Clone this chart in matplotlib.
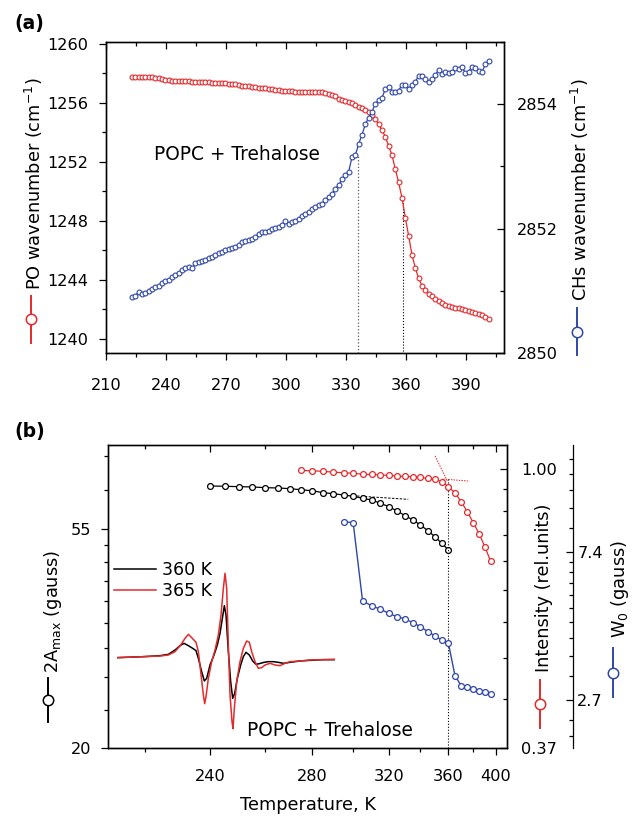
import numpy as np
import matplotlib
matplotlib.use('Agg')
import matplotlib.pyplot as plt
from matplotlib.lines import Line2D
from matplotlib.ticker import FixedLocator, NullFormatter

plt.rcParams['font.family'] = ['DejaVu Sans']
plt.rcParams['mathtext.default'] = 'regular'

# ---------------- data: panel (a) ----------------
temp_a = [223.0, 224.7, 226.3, 228.0, 229.7, 231.3, 233.0, 234.7, 236.3, 238.0,
          239.7, 241.3, 243.0, 244.7, 246.3, 248.0, 249.7, 251.3, 253.0, 254.7,
          256.3, 258.0, 259.7, 261.3, 263.0, 264.7, 266.3, 268.0, 269.7, 271.3,
          273.0, 274.7, 276.3, 278.0, 279.7, 281.3, 283.0, 284.7, 286.3, 288.0,
          289.7, 291.3, 293.0, 294.7, 296.3, 298.0, 299.7, 301.3, 303.0, 304.7,
          306.3, 308.0, 309.7, 311.3, 313.0, 314.7, 316.3, 318.0, 319.7, 321.3,
          323.0, 324.7, 326.3, 328.0, 329.7, 331.3, 333.0, 334.7, 336.3, 338.0,
          339.7, 341.3, 343.0, 344.7, 346.3, 348.0, 349.7, 351.3, 353.0, 354.7,
          356.3, 358.0, 359.7, 361.3, 363.0, 364.7, 366.3, 368.0, 369.7, 371.3,
          373.0, 374.7, 376.3, 378.0, 379.7, 381.3, 383.0, 384.7, 386.3, 388.0,
          389.7, 391.3, 393.0, 394.7, 396.3, 398.0, 399.7, 401.3]
po_wn = [1257.75, 1257.75, 1257.75, 1257.75, 1257.74, 1257.74, 1257.73, 1257.72, 1257.70, 1257.65,
         1257.58, 1257.53, 1257.51, 1257.50, 1257.49, 1257.48, 1257.47, 1257.46, 1257.45, 1257.44,
         1257.43, 1257.42, 1257.41, 1257.40, 1257.38, 1257.37, 1257.36, 1257.34, 1257.33, 1257.30,
         1257.28, 1257.25, 1257.21, 1257.18, 1257.15, 1257.12, 1257.10, 1257.07, 1257.04, 1257.01,
         1256.98, 1256.95, 1256.92, 1256.89, 1256.86, 1256.84, 1256.82, 1256.80, 1256.78, 1256.77,
         1256.76, 1256.76, 1256.75, 1256.75, 1256.76, 1256.76, 1256.75, 1256.72, 1256.67, 1256.62,
         1256.55, 1256.45, 1256.30, 1256.18, 1256.13, 1256.06, 1255.97, 1255.85, 1255.74, 1255.63,
         1255.51, 1255.36, 1255.17, 1254.93, 1254.55, 1254.15, 1253.70, 1253.10, 1252.45, 1251.50,
         1250.62, 1249.55, 1248.20, 1247.00, 1245.70, 1244.80, 1244.10, 1243.62, 1243.30, 1243.08,
         1242.90, 1242.72, 1242.56, 1242.44, 1242.33, 1242.26, 1242.17, 1242.13, 1242.08, 1242.03,
         1241.97, 1241.90, 1241.83, 1241.73, 1241.66, 1241.60, 1241.50, 1241.33]
ch_wn = [2850.90, 2850.92, 2850.98, 2850.95, 2850.97, 2850.99, 2851.03, 2851.06, 2851.08, 2851.12,
         2851.15, 2851.18, 2851.22, 2851.26, 2851.28, 2851.33, 2851.36, 2851.39, 2851.36, 2851.44,
         2851.47, 2851.48, 2851.50, 2851.52, 2851.55, 2851.58, 2851.60, 2851.62, 2851.65, 2851.67,
         2851.69, 2851.71, 2851.73, 2851.78, 2851.80, 2851.82, 2851.84, 2851.87, 2851.91, 2851.94,
         2851.95, 2851.96, 2851.99, 2852.01, 2852.03, 2852.05, 2852.12, 2852.08, 2852.10, 2852.13,
         2852.16, 2852.20, 2852.24, 2852.27, 2852.31, 2852.35, 2852.38, 2852.40, 2852.46, 2852.51,
         2852.56, 2852.64, 2852.70, 2852.79, 2852.86, 2852.91, 2853.15, 2853.18, 2853.36, 2853.51,
         2853.68, 2853.78, 2853.88, 2854.01, 2854.06, 2854.10, 2854.25, 2854.28, 2854.20, 2854.20,
         2854.22, 2854.31, 2854.31, 2854.25, 2854.31, 2854.36, 2854.46, 2854.45, 2854.40, 2854.36,
         2854.40, 2854.47, 2854.55, 2854.49, 2854.52, 2854.50, 2854.52, 2854.58, 2854.57, 2854.60,
         2854.50, 2854.52, 2854.60, 2854.59, 2854.54, 2854.52, 2854.64, 2854.69]
a_xticks = [210, 240, 270, 300, 330, 360, 390]
a_xminor = [225, 255, 285, 315, 345, 375, 405]
po_ticks = [1240, 1244, 1248, 1252, 1256, 1260]
po_minor = [1242, 1246, 1250, 1254, 1258]
ch_ticks = [2850, 2852, 2854]
ch_minor = [2851, 2853, 2855]
trans_ch_T = 336.2      # CH transition marker
trans_ch_val = 2853.18
trans_po_T = 358.3      # PO transition marker
trans_po_val = 1249.7

# ---------------- data: panel (b) ----------------
temp_amax = [240, 245, 250, 255, 260, 265, 270, 275, 280, 285, 290, 295, 300,
             305, 310, 315, 320, 325, 330, 335, 340, 345, 350, 355, 360]
amax = [67.09, 66.99, 66.87, 66.78, 66.56, 66.47, 66.26, 65.91, 65.61, 65.04, 64.73, 64.35, 63.96,
        63.38, 62.88, 61.93, 60.97, 59.76, 58.48, 57.34, 56.03, 54.58, 53.09, 51.49, 49.92]
temp_int = [275, 280, 285, 290, 295, 300, 305, 310, 315, 320, 325, 330, 335,
            340, 345, 350, 355, 360, 365, 370, 375, 380, 385, 390, 395]
intensity = [0.995, 0.994, 0.992, 0.989, 0.987, 0.985, 0.982, 0.981, 0.979, 0.978, 0.975, 0.974, 0.973,
             0.971, 0.967, 0.964, 0.956, 0.939, 0.919, 0.890, 0.858, 0.825, 0.793, 0.757, 0.720]
temp_w0 = [295, 300, 305, 310, 315, 320, 325, 330, 335, 340, 345,
           350, 355, 360, 365, 370, 375, 380, 385, 390, 395]
w0 = [9.10, 9.03, 5.30, 5.13, 5.01, 4.87, 4.76, 4.69, 4.57, 4.45, 4.30,
      4.18, 4.06, 3.97, 3.19, 2.97, 2.94, 2.90, 2.88, 2.85, 2.81]
b_xticks = [240, 280, 320, 360, 400]
b_xminor = [220, 260, 300, 340, 380]
amax_ticks = [20, 55]
amax_minor = [23.89, 27.78, 31.67, 35.56, 39.44, 43.33, 47.22, 51.11, 66, 77]
int_ticks = [0.37, 1.00]
int_minor = [0.44, 0.51, 0.58, 0.65, 0.72, 0.79, 0.86, 0.93]
w0_ticks = [2.7, 7.4]
w0_minor = [2.12, 2.35, 3.17, 3.64, 4.11, 4.58, 5.05, 5.52, 5.99, 6.46, 6.93, 8.7, 10.0, 11.3, 12.6, 13.9]
amax_tangent_T = [300, 332]
amax_tangent_v = [64.13, 63.07]
int_tangent1_T = [350.2, 359.5]
int_tangent1_v = [1.048, 0.955]
int_tangent2_T = [356.0, 376.6]
int_tangent2_v = [0.965, 0.958]
trans_b_T = 360
trans_b_top = 0.965

# EPR spectra (inset), field in arbitrary units, amplitude in arbitrary units
field_360 = [20, 100, 150, 175, 195, 210, 222, 235, 248, 258, 265, 275, 283, 290, 300, 312, 322, 330,
             337, 343, 348, 355, 362, 368, 374, 382, 392, 400, 408, 418, 428, 438, 448, 462, 475, 490,
             505, 520, 540, 570, 600, 640, 675]
amp_360 = [0, 3, 6, 10, 23, 36, 43, 36, 28, 21, -2, -42, -70, -62, -22, 8, 38, 73,
           118, 156, 128, 18, -72, -122, -107, -62, -22, 3, 16, 8, -10, -20, -18, -14, -12, -12,
           -14, -17, -14, -10, -8, -6, -6]
field_365 = [20, 100, 150, 175, 195, 212, 225, 235, 245, 258, 265, 272, 280, 284, 288, 295, 305, 315,
             325, 333, 340, 345, 350, 355, 360, 366, 369, 373, 380, 390, 400, 410, 418, 425, 435, 445,
             455, 465, 480, 495, 510, 525, 540, 570, 600, 640, 675]
amp_365 = [0, 3, 5, 8, 18, 38, 58, 70, 60, 46, 18, -42, -112, -138, -117, -62, -12, 23,
           68, 128, 208, 253, 208, 38, -112, -192, -213, -152, -72, -12, 28, 50, 46, 18, -12, -32,
           -30, -22, -17, -22, -24, -17, -12, -10, -7, -6, -5]

# ---------------- figure ----------------
W, H = 637, 817
fig = plt.figure(figsize=(W / 100, H / 100), dpi=100)


def fx(x):
    return x / W


def fy(y):
    return 1 - y / H


RED = '#e32a2c'
BLUE = '#2f47a8'
TICK_FS = 11.6
LABEL_FS = 12.8
MS_A = 3.5
MS_B = 4.2


def style_ticks(axis_obj, major, minor, labels=None):
    axis_obj.set_major_locator(FixedLocator(major))
    axis_obj.set_minor_locator(FixedLocator(minor))
    axis_obj.set_minor_formatter(NullFormatter())
    if labels is not None:
        axis_obj.set_ticklabels(labels)


def symbol(x, y0, y1, color):
    ym = (y0 + y1) / 2
    fig.add_artist(Line2D([fx(x)] * 3, [fy(y0), fy(ym), fy(y1)], color=color, lw=1.4,
                          marker='o', markevery=[1], ms=7.5, mfc='white', mec=color, mew=1.1))


# ================= panel (a) =================
axA = fig.add_axes([fx(106), fy(353), fx(504) - fx(106), fy(42) - fy(353)])
axA.plot(temp_a, po_wn, '-o', color=RED, lw=0.9, ms=MS_A, mew=0.8, mfc='white', mec=RED, zorder=3)
axA.plot([trans_po_T, trans_po_T], [1239.0, trans_po_val], ls=':', color='k', lw=0.8, zorder=2)
axA.set_xlim(210, 409)
axA.set_ylim(1239.05, 1260.13)
style_ticks(axA.xaxis, a_xticks, a_xminor, [str(t) for t in a_xticks])
style_ticks(axA.yaxis, po_ticks, po_minor, [str(t) for t in po_ticks])
axA.tick_params(axis='both', which='major', direction='out', length=5, width=0.9, labelsize=TICK_FS)
axA.tick_params(axis='both', which='minor', direction='out', length=2.8, width=0.9)
axA.tick_params(axis='x', which='major', pad=13)
axA.tick_params(axis='y', which='major', pad=7.5)

axAt = axA.twiny()
axAt.set_xlim(axA.get_xlim())
style_ticks(axAt.xaxis, a_xticks, a_xminor)
axAt.tick_params(axis='x', which='both', direction='in', labeltop=False)
axAt.tick_params(axis='x', which='major', length=5, width=0.9)
axAt.tick_params(axis='x', which='minor', length=2.8, width=0.9)

axA2 = axA.twinx()
axA2.plot(temp_a, ch_wn, '-o', color=BLUE, lw=0.9, ms=MS_A, mew=0.8, mfc='white', mec=BLUE, zorder=3)
axA2.plot([trans_ch_T, trans_ch_T], [2850, trans_ch_val], ls=':', color='0.35', lw=0.9, zorder=2)
axA2.set_ylim(2850, 2855)
style_ticks(axA2.yaxis, ch_ticks, ch_minor, [str(t) for t in ch_ticks])
axA2.tick_params(axis='y', which='major', direction='in', length=5, width=0.9, labelsize=TICK_FS, pad=9)
axA2.tick_params(axis='y', which='minor', direction='in', length=2.8, width=0.9)
for a in (axA, axAt, axA2):
    for s in a.spines.values():
        s.set_linewidth(0.9)

fig.text(fx(236.7), fy(155), 'POPC + Trehalose', fontsize=13.4, ha='center', va='center')
fig.text(fx(34), fy(184), 'PO wavenumber (cm$^{-1}$)', rotation=90, fontsize=LABEL_FS,
         ha='center', va='center')
symbol(31, 296, 343, RED)
fig.text(fx(579.5), fy(190), 'CHs wavenumber (cm$^{-1}$)', rotation=90, fontsize=LABEL_FS,
         ha='center', va='center')
symbol(577, 308, 355, BLUE)
fig.text(fx(14), fy(24), '(a)', fontsize=13.5, fontweight='bold', ha='left', va='center')


# ================= panel (b) =================
def fwd(T):
    T = np.asarray(T, dtype=float)
    with np.errstate(divide='ignore', invalid='ignore'):
        return -1000.0 / T


def inv(u):
    u = np.asarray(u, dtype=float)
    with np.errstate(divide='ignore', invalid='ignore'):
        return -1000.0 / u


axB = fig.add_axes([fx(108.3), fy(748), fx(507) - fx(108.3), fy(445) - fy(748)])
axB.set_xscale('function', functions=(fwd, inv))
axB.set_yscale('log')
axB.plot(temp_amax, amax, '-o', color='k', lw=0.9, ms=MS_B, mew=0.9, mfc='white', mec='k', zorder=3)
axB.plot(amax_tangent_T, amax_tangent_v, ls=(0, (2.5, 1.5)), color='k', lw=0.7, zorder=2)
axB.set_xlim(210, 410.5)
axB.set_ylim(20, 81.06)
style_ticks(axB.xaxis, b_xticks, b_xminor, [str(t) for t in b_xticks])
style_ticks(axB.yaxis, amax_ticks, amax_minor, [str(t) for t in amax_ticks])
axB.tick_params(axis='both', which='major', direction='out', length=5, width=0.9, labelsize=TICK_FS)
axB.tick_params(axis='both', which='minor', direction='out', length=2.8, width=0.9)
axB.tick_params(axis='x', which='major', pad=10)
axB.tick_params(axis='y', which='major', pad=7.5)
axB.set_xlabel('Temperature, K', fontsize=LABEL_FS, labelpad=9)

axBt = axB.twiny()
axBt.set_xscale('function', functions=(fwd, inv))
axBt.set_xlim(axB.get_xlim())
style_ticks(axBt.xaxis, b_xticks, b_xminor)
axBt.tick_params(axis='x', which='both', direction='in', labeltop=False)
axBt.tick_params(axis='x', which='major', length=5, width=0.9)
axBt.tick_params(axis='x', which='minor', length=2.8, width=0.9)

axI = axB.twinx()
axI.set_yscale('log')
axI.plot(temp_int, intensity, '-o', color=RED, lw=0.9, ms=MS_B, mew=0.9, mfc='white', mec=RED, zorder=3)
axI.plot(int_tangent1_T, int_tangent1_v, ls=(0, (1.5, 1.2)), color=RED, lw=0.7, zorder=2)
axI.plot(int_tangent2_T, int_tangent2_v, ls=(0, (1.5, 1.2)), color=RED, lw=0.7, zorder=2)
axI.plot([trans_b_T, trans_b_T], [0.37, trans_b_top], ls=':', color='k', lw=0.8, zorder=2)
axI.set_ylim(0.37, 1.0896)
style_ticks(axI.yaxis, int_ticks, int_minor, ['0.37', '1.00'])
axI.tick_params(axis='y', which='major', direction='in', length=5, width=0.9, labelsize=TICK_FS, pad=10)
axI.tick_params(axis='y', which='minor', direction='in', length=2.8, width=0.9)

axW = axB.twinx()
axW.set_yscale('log')
axW.spines['right'].set_position(('axes', (573 - 108.3) / (507 - 108.3)))
for side in ('top', 'bottom', 'left'):
    axW.spines[side].set_visible(False)
axW.plot(temp_w0, w0, '-o', color=BLUE, lw=1.0, ms=MS_B, mew=0.9, mfc='white', mec=BLUE, zorder=3)
axW.set_ylim(1.947, 15.33)
style_ticks(axW.yaxis, w0_ticks, w0_minor, ['2.7', '7.4'])
axW.tick_params(axis='y', which='major', direction='in', length=5, width=0.9, labelsize=TICK_FS, pad=3)
axW.tick_params(axis='y', which='minor', direction='in', length=2.8, width=0.9)
for a in (axB, axBt, axI, axW):
    for s in a.spines.values():
        s.set_linewidth(0.9)

# inset EPR spectra
axS = fig.add_axes([fx(116.7), fy(735), fx(335) - fx(116.7), fy(560) - fy(735)])
axS.axis('off')
l1, = axS.plot(field_360, amp_360, color='k', lw=1.1)
l2, = axS.plot(field_365, amp_365, color=RED, lw=1.1)
axS.set_xlim(20, 675)
axS.set_ylim(-232, 293)
fig.legend([l1, l2], ['360 K', '365 K'], loc='upper left',
           bbox_to_anchor=(fx(114), fy(561)), frameon=False, fontsize=12.5,
           handlelength=2.4, handletextpad=0.35, labelspacing=0.15,
           borderpad=0, borderaxespad=0)

fig.text(fx(330), fy(730), 'POPC + Trehalose', fontsize=13.4, ha='center', va='center')
fig.text(fx(53), fy(611), '2A$_{max}$ (gauss)', rotation=90, fontsize=LABEL_FS,
         ha='center', va='center')
symbol(48.3, 678, 722, 'k')
fig.text(fx(544), fy(587.5), 'Intensity (rel.units)', rotation=90, fontsize=LABEL_FS,
         ha='center', va='center')
symbol(540, 680, 728, RED)
fig.text(fx(620), fy(589), 'W$_0$ (gauss)', rotation=90, fontsize=LABEL_FS,
         ha='center', va='center')
symbol(613, 648, 697, BLUE)
fig.text(fx(14), fy(432), '(b)', fontsize=13.5, fontweight='bold', ha='left', va='center')

fig.savefig('out.png', dpi=100)
